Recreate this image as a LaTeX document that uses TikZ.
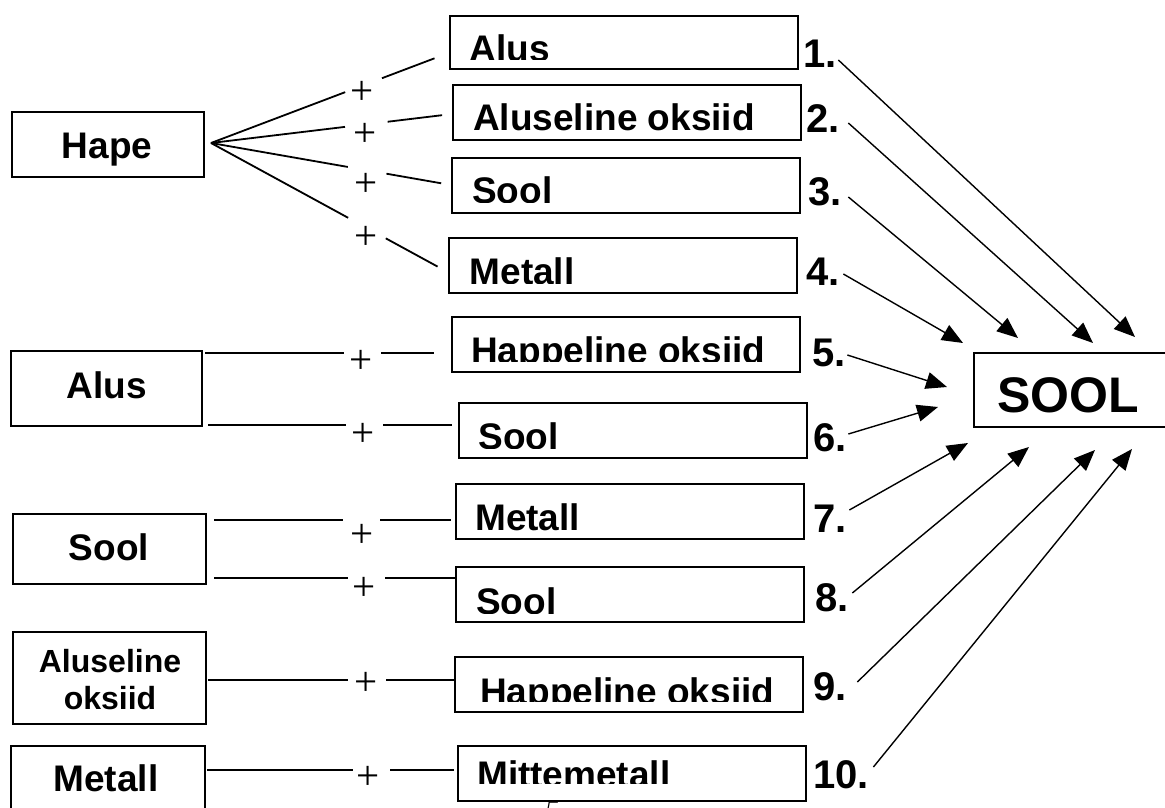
\documentclass[tikz,border=0pt]{standalone}
\usepackage{fontspec}
\setmainfont{Liberation Sans}
\newfontfamily\plusfont{Liberation Serif}
\usetikzlibrary{arrows.meta,calc}

\tikzset{
  frame/.style={draw, line width=2pt, inner sep=0pt},
  rbox/.style={frame, minimum width=348pt, minimum height=55pt},
  word/.style={inner sep=0pt, font=\fontsize{37}{40}\selectfont\bfseries},
  smallword/.style={inner sep=0pt, font=\fontsize{32}{37}\selectfont\bfseries},
  num/.style={inner sep=0pt, anchor=base west, font=\fontsize{40}{44}\selectfont\bfseries},
  plus/.style={inner sep=0pt, font=\plusfont\fontsize{41}{44}\selectfont},
  link/.style={line width=1.8pt},
  arr/.style={line width=1.4pt, -{Triangle[length=21pt,width=17pt]}},
}

% label inside a right-hand box, cut off just above the frame's lower edge
% #1 box, #2 clip height above bottom, #3 baseline above bottom, #4 left indent, #5 text
\newcommand\cliplabel[5]{%
  \begin{scope}
    \clip (#1.north west) rectangle ([yshift=#2pt]#1.south east);
    \node[word, anchor=base west] (#1t) at ([xshift=#4pt,yshift=#3pt]#1.south west) {#5};
  \end{scope}}

\begin{document}
\begin{tikzpicture}[x=1pt,y=-1pt]
\useasboundingbox (0,0) rectangle (1165,808);
\fill[white] (0,0) rectangle (1165,808);

% ---------- left-hand reactants ----------
\node[frame, minimum width=192pt, minimum height=65pt] (hape) at (108,144.5) {};
\node[word, anchor=base] (hapet) at (107,158) {Hape};
\node[frame, minimum width=191pt, minimum height=75pt] (alus) at (106.5,388.5) {};
\node[word, anchor=base] (alust) at (107,398) {Alus};
\node[frame, minimum width=193pt, minimum height=70pt] (sool) at (109.5,549) {};
\node[word, anchor=base] (soolt) at (109,560) {Sool};
\node[frame, minimum width=193pt, minimum height=92pt] (alox) at (109.5,678) {};
\node[smallword, anchor=base] (aloxa) at (110,672) {Aluseline};
\node[smallword, anchor=base] (aloxb) at (110,709) {oksiid};
\node[frame, minimum width=194pt, minimum height=84pt] (metall) at (108,788) {};
\node[word, anchor=base] (metallt) at (106,791) {Metall};

% ---------- right-hand reactants ----------
\node[rbox, minimum height=53pt] (b1) at (623.5,42.5) {};
\node[rbox] (b2)  at (627,112.5) {};
\node[rbox] (b3)  at (626,185) {};
\node[rbox] (b4)  at (622.5,265.5) {};
\node[rbox] (b5)  at (626,344) {};
\node[rbox] (b6)  at (632.5,430) {};
\node[rbox] (b7)  at (630,511.5) {};
\node[rbox] (b8)  at (630,594.5) {};
\node[rbox] (b9)  at (629,684.5) {};
\node[rbox] (b10) at (632,773) {};

\cliplabel{b1}{10}{8}{21}{Alus}
\cliplabel{b2}{11}{11}{21}{Aluseline oksiid}
\cliplabel{b3}{11}{10}{21}{Sool}
\cliplabel{b4}{11}{10}{22}{Metall}
\cliplabel{b5}{11}{9}{20}{Happeline oksiid}
\cliplabel{b6}{10}{9}{21}{Sool}
\cliplabel{b7}{10}{10}{20}{Metall}
\cliplabel{b8}{10}{9}{21}{Sool}
\cliplabel{b9}{12}{9}{26}{Happeline oksiid}
\cliplabel{b10}{18}{14}{20}{Mittemetall}

% ---------- product ----------
\node[frame, minimum width=196pt, minimum height=74pt] (prod) at (1072,390) {};
\node[inner sep=0pt, anchor=base west, font=\fontsize{50}{52}\selectfont\bfseries] (prodt) at (997,412) {SOOL};

% ---------- plus signs ----------
\node[plus] (p1)  at (362,93)  {+};
\node[plus] (p2)  at (365,135) {+};
\node[plus] (p3)  at (366,185) {+};
\node[plus] (p4)  at (366,238) {+};
\node[plus] (p5)  at (361,362) {+};
\node[plus] (p6)  at (363,435) {+};
\node[plus] (p7)  at (362,536) {+};
\node[plus] (p8)  at (364,589) {+};
\node[plus] (p9)  at (366,684) {+};
\node[plus] (p10) at (368,778) {+};

% ---------- fan from "Hape" ----------
\coordinate (fan) at ([xshift=6pt,yshift=1.5pt]hape.east);
\coordinate (t1) at ([yshift=-10.5pt]b1.west);
\coordinate (t2) at ([yshift=-1.5pt]b2.west);
\coordinate (t3) at (b3.west);
\coordinate (t4) at ([yshift=-6.5pt]b4.west);
\draw[link] (fan) -- ($(fan)!.565!(t1)$) ($(fan)!.72!(t1)$)  -- ($(fan)!.941!(t1)$);
\draw[link] (fan) -- ($(fan)!.556!(t2)$) ($(fan)!.733!(t2)$) -- ($(fan)!.959!(t2)$);
\draw[link] (fan) -- ($(fan)!.57!(t3)$)  ($(fan)!.731!(t3)$) -- ($(fan)!.959!(t3)$);
\draw[link] (fan) -- ($(fan)!.58!(t4)$)  ($(fan)!.739!(t4)$) -- ($(fan)!.958!(t4)$);

% ---------- straight pairings ----------
\draw[link] ([xshift=2pt,yshift=-3pt]alus.north east) -- ++(139,0) ++(37,0) -- ++(53,0);
\draw[link] ([xshift=5pt,yshift=2pt]alus.south east) -- ++(138,0) ++(37,0) -- ++(69,0);
\draw[link] ([xshift=7pt,yshift=-7pt]sool.north east) -- ++(129,0) ++(37,0) -- ++(71,0);
\draw[link] ([xshift=7pt,yshift=7pt]sool.south east) -- ++(134,0) ++(37,0) -- ++(71,0);
\draw[link] ([xshift=1pt,yshift=-2pt]alox.east) -- ++(140,0) ++(38,0) -- ++(70,0);
\draw[link] ([xshift=1pt,yshift=-25pt]metall.north east) -- ++(146,0) ++(37,0) -- ++(64,0);

% ---------- reaction numbers ----------
\node[num] (n1)  at (803,68)  {1.};
\node[num] (n2)  at (806,132) {2.};
\node[num] (n3)  at (808,205) {3.};
\node[num] (n4)  at (806,285) {4.};
\node[num] (n5)  at (812,366) {5.};
\node[num] (n6)  at (813,451) {6.};
\node[num] (n7)  at (813,532) {7.};
\node[num] (n8)  at (815,611) {8.};
\node[num] (n9)  at (813,700) {9.};
\node[num] (n10) at (813,788) {10.};

% ---------- arrows into the product ----------
\coordinate (a1)  at (1135,337);
\coordinate (a2)  at (1093,343);
\coordinate (a3)  at (1018,338);
\coordinate (a4)  at (963,343);
\coordinate (a5)  at (947,387);
\coordinate (a6)  at (938,407);
\coordinate (a7)  at (968,443);
\coordinate (a8)  at (1029,447);
\coordinate (a9)  at (1095,450);
\coordinate (a10) at (1132,449);
\draw[arr] ([xshift=1.6pt,yshift=8pt]n1.base east)   -- (a1);
\draw[arr] ([xshift=8.6pt,yshift=9pt]n2.base east)   -- (a2);
\draw[arr] ([xshift=6.6pt,yshift=8pt]n3.base east)   -- (a3);
\draw[arr] ([xshift=3.6pt,yshift=11pt]n4.base east)  -- (a4);
\draw[arr] ([xshift=1.6pt,yshift=11pt]n5.base east)  -- (a5);
\draw[arr] ([xshift=1.6pt,yshift=17pt]n6.base east)  -- (a6);
\draw[arr] ([xshift=2.6pt,yshift=22pt]n7.base east)  -- (a7);
\draw[arr] ([xshift=3.6pt,yshift=18pt]n8.base east)  -- (a8);
\draw[arr] ([xshift=10.6pt,yshift=18pt]n9.base east) -- (a9);
\draw[arr] ([xshift=4.4pt,yshift=21pt]n10.base east) -- (a10);

% page number, cut by the lower edge
\node[inner sep=0pt, anchor=north west, font=\plusfont\itshape\fontsize{28}{30}\selectfont] (pg) at (545,801) {5};
\end{tikzpicture}
\end{document}
